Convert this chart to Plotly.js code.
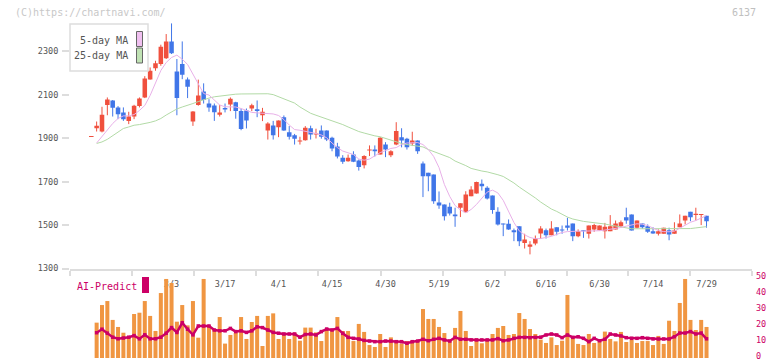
<!DOCTYPE html>
<html>
<head>
<meta charset="utf-8">
<script src="https://cdn.plot.ly/plotly-3.0.1.min.js"></script>
<style>
  html, body { margin: 0; padding: 0; background: #fff; }
  #chart { width: 772px; height: 361px; }
</style>
</head>
<body>
<div id="chart"></div>
<script>
// ---- data: one entry per trading session ----
const dateLabels = ["3/3", "3/17", "4/1", "4/15", "4/30", "5/19", "6/2", "6/16", "6/30", "7/14", "7/29"];
const dateLabelIndex = [15, 25, 35, 45, 55, 65, 75, 85, 95, 105, 115];

const open = [1906,1946,1931,2053,2074,2042,2019,1980,2000,2048, 2088,2171,2222,2242,2269,2346,2208,2242,2171,1977,
  2053,2115,2060,2051,2008,2039,2056,2066,2025,2028, 2037,2034,2006,1936,1959,1951,1997,1928,1914,1885,
  1891,1946,1917,1936,1936,1902,1862,1810,1794,1825, 1798,1776,1844,1848,1825,1871,1822,1871,1905,1898,
  1876,1890,1784,1741,1733,1604,1595,1584,1549,1580, 1559,1633,1646,1690,1672,1636,1561,1507,1506,1476,
  1495,1418,1400,1415,1461,1476,1453,1490,1480,1498, 1507,1449,1475,1460,1480,1476,1472,1472,1480,1495,
  1536,1549,1488,1507,1495,1472,1460,1460,1476,1460, 1490,1521,1561,1546,1546,1543];
const high = [1908,1977,2045,2088,2076,2048,2042,2022,2054,2088, 2186,2226,2257,2331,2380,2429,2265,2346,2180,2025,
  2170,2153,2080,2060,2054,2060,2088,2068,2037,2037, 2059,2074,2040,1974,1980,1982,2005,1956,1920,1907,
  1956,1958,1944,1959,1936,1907,1879,1822,1825,1840, 1802,1822,1867,1867,1905,1882,1845,1974,1946,1902,
  1930,1890,1793,1741,1733,1655,1595,1603,1580,1600, 1656,1679,1700,1710,1679,1636,1582,1507,1526,1484,
  1495,1460,1426,1452,1495,1484,1518,1490,1498,1534, 1507,1480,1475,1498,1506,1498,1510,1546,1521,1521,
  1580,1549,1521,1507,1503,1490,1480,1488,1488,1513, 1549,1543,1561,1580,1549,1543];
const low = [1906,1931,1927,2006,2000,1988,1980,1965,1988,2042, 2085,2170,2211,2234,2265,2288,2006,2172,2085,1957,
  2050,2060,2022,1980,2000,2019,2025,1990,1937,1945, 2025,1997,1979,1894,1894,1905,1934,1894,1871,1871,
  1889,1894,1899,1898,1887,1840,1807,1782,1792,1790, 1751,1761,1818,1816,1825,1813,1813,1868,1858,1848,
  1864,1828,1629,1656,1598,1575,1521,1544,1492,1537, 1557,1633,1645,1659,1618,1552,1498,1449,1478,1426,
  1403,1392,1365,1407,1437,1438,1453,1453,1460,1475, 1426,1444,1441,1438,1469,1476,1438,1472,1480,1488,
  1506,1475,1484,1483,1464,1460,1452,1460,1430,1460, 1490,1503,1518,1521,1500,1488];
const close = [1908,1958,2008,2079,2040,2011,1988,2000,2050,2083, 2175,2211,2245,2322,2346,2292,2085,2193,2137,2023,
  2097,2076,2042,2020,2019,2033,2082,2025,1943,1982, 2052,2025,2022,1968,1914,1982,1936,1907,1898,1890,
  1948,1917,1922,1907,1894,1853,1816,1792,1810,1792, 1767,1818,1848,1840,1902,1848,1840,1933,1890,1859,
  1890,1840,1725,1725,1610,1590,1541,1553,1541,1600, 1641,1664,1698,1679,1623,1569,1503,1503,1480,1467,
  1426,1434,1410,1438,1484,1453,1484,1469,1475,1488, 1449,1472,1472,1498,1500,1498,1492,1495,1507,1513,
  1521,1475,1521,1490,1469,1461,1472,1488,1457,1475, 1507,1543,1536,1552,1549,1518];

const ma5 = [null,1878,1908,1936,1968,1991,2003,2003,2009,2028, 2051,2097,2152,2212,2249,2272,2283,2264,2240,2194,
  2148,2106,2099,2076,2053,2045,2045,2044,2037,2028, 2019,2017,2016,2014,2012,2005,1986,1961,1940,1937,
  1933,1929,1922,1915,1902,1878,1857,1841,1832,1825, 1804,1799,1804,1820,1834,1843,1853,1857,1871,1878,
  1880,1880,1871,1848,1816,1765,1687,1632,1590,1570, 1557,1572,1595,1623,1652,1661,1648,1614,1563,1512,
  1473,1455,1443,1437,1438,1443,1448,1457,1466,1470, 1472,1472,1472,1472,1472,1474,1477,1480,1483,1489,
  1495,1502,1506,1504,1498,1486,1475,1470,1469,1472, 1486,1500,1513,1521,1533,1544];
const ma25 = [null,1876,1883,1895,1911,1929,1945,1952,1960,1963, 1967,1973,1980,1991,2007,2023,2035,2044,2051,2060,
  2069,2078,2085,2091,2094,2099,2101,2103,2104,2104, 2104,2105,2105,2105,2101,2092,2081,2071,2062,2044,
  2030,2015,2006,1998,1990,1982,1973,1963,1952,1940, 1931,1924,1917,1911,1907,1899,1890,1883,1876,1871,
  1867,1863,1860,1848,1839,1830,1820,1811,1795,1786, 1774,1761,1754,1749,1745,1740,1732,1724,1710,1694,
  1675,1659,1643,1625,1606,1588,1574,1563,1549,1537, 1528,1522,1517,1514,1512,1510,1505,1500,1496,1492,
  1487,1483,1483,1483,1483,1483,1483,1483,1483,1482, 1481,1481,1484,1487,1490,1493];

const volume = [null,22.1,33.1,35.6,23.8,19.4,15.8,12.7,27.5,28.3, 35.6,26.3,16.9,40.6,49.4,46.9,22.7,33.1,20.4,35.6,
  12.7,49.4,20.4,17.5,25.6,9,14.4,15.8,25.6,11.9, 22.5,26.3,7.5,26.3,27.9,11.9,15.8,11.9,15.8,10.8,
  19,19,16,10.6,17.5,16.9,25.6,16.9,16.9,10.6, 21.3,16.3,8.1,6.9,15,6.9,12.9,10.6,9,10.6,
  11,11,30.6,24.4,24.4,19.4,15.6,10.6,18.8,29.4, 16.9,7.5,12.1,9.2,10.6,15,18.8,20,14.4,15,
  28.1,24.4,18.1,15,11.5,9.4,12.9,8.1,10.8,39.4, 12.9,8.8,8.1,15,9.4,11.3,16.5,11.9,10.4,16.3,
  10,11.3,9.4,10.6,10.6,8.1,13.8,8.8,23.3,16.9, 34.4,49.4,23.8,17.5,23.8,19.4];
const aiPredict = [null,15.8,18,15.5,13,12,12.5,13,14,12, 14.5,12,12,13,15.5,19,16,22,18,14.5,
  20,20,20,17.5,17,17,18.5,16.5,17,16, 17,19.5,19,17.5,16,15.5,15,15,15,13,
  14.7,15,14.4,16.5,18.1,17.5,18.5,15.4,12.9,12.3, 11.9,11,10.6,10.2,10.2,10.6,10.6,10.2,10.2,9.2,
  10.2,10.6,11.7,10.8,11.7,12.3,11.3,10.6,12.9,11.7, 11.7,11.3,11.3,11.3,11.3,11.3,12.1,10.8,11.3,12.3,
  12.9,12.9,12.7,12.9,13,14.4,15,14.4,12.7,14.4, 12.9,13.3,12.3,10.2,12.3,10.8,11.7,15,14.4,13.8,
  12.7,12.3,12.3,12.7,12.3,11.9,11.9,11.9,11.9,13.3, 15.6,15.6,16.5,15,15.6,12];

// section dividers along the date axis (in session units)
const dividerTicks = [-3.95, 7.61, 19.2, 30.8, 42.4, 54.1, 65.7, 77.3, 88.9, 100.3, 111.9, 123.45];
const priceTicks = [1300, 1500, 1700, 1900, 2100, 2300];
const predictTicks = [0, 10, 20, 30, 40, 50];

// ---- styling ----
const UP = 'rgb(240,80,62)';
const DOWN = 'rgb(64,118,232)';
const MONO = 'DejaVu Sans Mono, monospace';
const AI = '#cc0066';

// plot-area pixel helpers for overlay decorations
const M = { l: 70, r: 20, t: 8, b: 3 };
const PW = 772 - M.l - M.r, PH = 361 - M.t - M.b;
const fx = p => (p - M.l) / PW;
const fy = p => (361 - M.b - p) / PH;

const idx = open.map((_, i) => i);
const isUp = idx.map(i => close[i] >= open[i]);
const bodyBase = idx.map(i => Math.min(open[i], close[i]));
const bodyHeight = idx.map(i => Math.max(Math.abs(close[i] - open[i]), 4.6));

function wicks(up) {
  const xs = [], ys = [];
  idx.forEach(i => {
    if (isUp[i] === up) { xs.push(i, i, null); ys.push(low[i], high[i], null); }
  });
  return { xs, ys };
}
const wUp = wicks(true), wDn = wicks(false);

const traces = [
  { type: 'bar', x: idx, y: volume, xaxis: 'x2', yaxis: 'y2', width: 0.75,
    marker: { color: 'rgb(240,150,66)', line: { width: 0 } }, hoverinfo: 'skip' },
  { type: 'scatter', mode: 'lines+markers', x: idx, y: aiPredict, xaxis: 'x2', yaxis: 'y2',
    line: { color: AI, width: 2.5 }, marker: { symbol: 'square', size: 3.5, color: AI }, hoverinfo: 'skip' },
  { type: 'bar', x: idx, y: bodyHeight, base: bodyBase, width: 0.85,
    marker: { color: isUp.map(u => u ? UP : DOWN), line: { width: 0 } }, hoverinfo: 'skip' },
  { type: 'scatter', mode: 'lines', x: wUp.xs, y: wUp.ys, line: { color: UP, width: 1 }, hoverinfo: 'skip' },
  { type: 'scatter', mode: 'lines', x: wDn.xs, y: wDn.ys, line: { color: DOWN, width: 1 }, hoverinfo: 'skip' },
  { type: 'scatter', mode: 'lines', x: idx, y: ma25, line: { color: 'rgb(178,218,166)', width: 1 }, hoverinfo: 'skip' },
  { type: 'scatter', mode: 'lines', x: idx, y: ma5, line: { color: 'rgb(232,176,232)', width: 1 }, hoverinfo: 'skip' }
];

const layout = {
  width: 772, height: 361,
  margin: M,
  paper_bgcolor: '#fff', plot_bgcolor: 'rgba(0,0,0,0)',
  showlegend: false, barmode: 'overlay',
  font: { family: MONO, size: 9, color: '#555' },
  xaxis: {
    domain: [0, 1], range: [-3.98, 123.5], anchor: 'y',
    showline: true, linecolor: '#dddddd', linewidth: 2,
    showgrid: false, zeroline: false,
    tickmode: 'array', tickvals: dateLabelIndex, ticktext: dateLabels,
    ticks: '', ticklabelstandoff: 6,
    tickfont: { family: MONO, size: 8.5, color: '#555' },
    minor: { tickmode: 'array', tickvals: dividerTicks, ticks: 'outside', ticklen: 5,
             tickwidth: 2, tickcolor: '#dddddd', showgrid: false },
    fixedrange: true
  },
  yaxis: {
    domain: [fy(268.5), 1], range: [1300, 2500], anchor: 'x',
    showline: false, showgrid: false, zeroline: false,
    tickmode: 'array', tickvals: priceTicks,
    ticks: 'outside', ticklen: 7, tickwidth: 2, tickcolor: '#dddddd',
    ticklabelstandoff: 2,
    tickfont: { family: MONO, size: 8.5, color: '#555' },
    fixedrange: true
  },
  xaxis2: {
    domain: [0, 1], matches: 'x', anchor: 'y2',
    showline: false, showgrid: false, zeroline: false, ticks: '', showticklabels: false,
    fixedrange: true
  },
  yaxis2: {
    domain: [0, fy(278)], range: [0, 50], anchor: 'x2', side: 'right',
    showline: false, showgrid: false, zeroline: false, ticks: '',
    tickmode: 'array', tickvals: predictTicks, ticklabelstandoff: 3,
    ticklabeloverflow: 'allow', ticklabelshift: -2,
    tickfont: { family: MONO, size: 8.5, color: AI },
    fixedrange: true
  },
  shapes: [
    // moving-average key box
    { type: 'rect', xref: 'paper', yref: 'paper', layer: 'above',
      x0: fx(70), x1: fx(148), y0: fy(71), y1: fy(24),
      line: { color: '#dddddd', width: 1.5 }, fillcolor: '#fff' },
    { type: 'rect', xref: 'paper', yref: 'paper', layer: 'above',
      x0: fx(136.5), x1: fx(142.5), y0: fy(46.5), y1: fy(31.5),
      line: { color: '#666', width: 1 }, fillcolor: 'rgb(240,192,240)' },
    { type: 'rect', xref: 'paper', yref: 'paper', layer: 'above',
      x0: fx(136.5), x1: fx(142.5), y0: fy(63), y1: fy(48),
      line: { color: '#666', width: 1 }, fillcolor: 'rgb(192,226,180)' },
    // AI-Predict key swatch
    { type: 'rect', xref: 'paper', yref: 'paper', layer: 'above',
      x0: fx(142), x1: fx(149), y0: fy(293), y1: fy(277),
      line: { width: 0 }, fillcolor: AI }
  ],
  annotations: [
    { xref: 'paper', yref: 'paper', x: fx(13), y: fy(12), xanchor: 'left', yanchor: 'middle',
      text: '(C)https://chartnavi.com/', showarrow: false,
      font: { family: MONO, size: 10, color: '#c8c8c8' } },
    { xref: 'paper', yref: 'paper', x: fx(758), y: fy(12), xanchor: 'right', yanchor: 'middle',
      text: '6137', showarrow: false,
      font: { family: MONO, size: 10, color: '#c0c0c0' } },
    { xref: 'paper', yref: 'paper', x: fx(130), y: fy(40), xanchor: 'right', yanchor: 'middle',
      text: '5-day MA', showarrow: false,
      font: { family: MONO, size: 10, color: '#555' } },
    { xref: 'paper', yref: 'paper', x: fx(130), y: fy(56), xanchor: 'right', yanchor: 'middle',
      text: '25-day MA', showarrow: false,
      font: { family: MONO, size: 10, color: '#555' } },
    { xref: 'paper', yref: 'paper', x: fx(75), y: fy(286), xanchor: 'left', yanchor: 'middle',
      text: 'AI-Predict', showarrow: false,
      font: { family: MONO, size: 10, color: AI } }
  ]
};

Plotly.newPlot('chart', traces, layout, { staticPlot: true, displayModeBar: false });
</script>
</body>
</html>
